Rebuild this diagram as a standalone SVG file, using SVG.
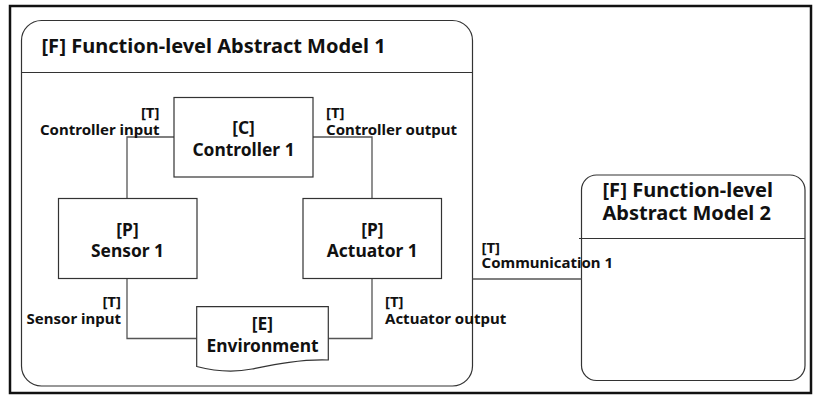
<svg xmlns="http://www.w3.org/2000/svg" width="818" height="397" viewBox="0 0 818 397">
<style>
  text { font-family: "Noto Sans", "Open Sans", sans-serif; font-weight: bold; fill: #111; }
  .title { font-size: 20px; }
  .node { font-size: 17.4px; text-anchor: middle; }
  .lbl { font-size: 15px; }
  .end { text-anchor: end; }
  .box { fill: #fff; stroke: #333; stroke-width: 1.2; }
  .conn { fill: none; stroke: #555; stroke-width: 1.3; }
</style>
<rect x="0" y="0" width="818" height="397" fill="#fff"/>
<rect x="10" y="6" width="801" height="387" fill="none" stroke="#111" stroke-width="2.5"/>

<g id="model1">
  <rect class="box" x="21.5" y="20.5" width="451" height="365.5" rx="20" ry="20"/>
  <line x1="21.5" y1="72.5" x2="472.5" y2="72.5" stroke="#333" stroke-width="1.2"/>
  <text class="title" x="41.5" y="53">[F] Function-level Abstract Model 1</text>
</g>

<g id="model2">
  <rect class="box" x="581.5" y="175" width="223.5" height="205.5" rx="15" ry="15"/>
  <line x1="579" y1="238.5" x2="805" y2="238.5" stroke="#333" stroke-width="1.2"/>
  <text class="title" x="602.5" y="196.5">[F] Function-level</text>
  <text class="title" x="602.5" y="219.5">Abstract Model 2</text>
</g>

<g id="connectors">
  <path class="conn" d="M174,137 H127 V198"/>
  <path class="conn" d="M313,137 H372 V198"/>
  <path class="conn" d="M127,278 V338.5 H196.7"/>
  <path class="conn" d="M328.3,338.5 H372 V278"/>
  <path class="conn" d="M472.7,279 H581.5"/>
</g>

<g id="controller">
  <rect class="box" x="174" y="97.5" width="139" height="79.5"/>
  <text class="node" x="243.5" y="134">[C]</text>
  <text class="node" x="243.5" y="155.5">Controller 1</text>
</g>

<g id="sensor">
  <rect class="box" x="58.5" y="198.5" width="138.5" height="80"/>
  <text class="node" x="127.5" y="235.5">[P]</text>
  <text class="node" x="127.5" y="257">Sensor 1</text>
</g>

<g id="actuator">
  <rect class="box" x="303" y="198.5" width="138.5" height="80"/>
  <text class="node" x="372.3" y="235.5">[P]</text>
  <text class="node" x="372.3" y="257">Actuator 1</text>
</g>

<g id="environment">
  <path class="box" d="M196.7,306.7 H328.3 V360 C300,359 272,365 252,369 C232,373 212,370.5 196.7,366.5 Z"/>
  <text class="node" x="262.5" y="330">[E]</text>
  <text class="node" x="262.5" y="352">Environment</text>
</g>

<g id="labels">
  <text class="lbl end" x="159.5" y="118">[T]</text>
  <text class="lbl end" x="159.5" y="135">Controller input</text>
  <text class="lbl" x="326" y="118">[T]</text>
  <text class="lbl" x="326" y="135">Controller output</text>
  <text class="lbl end" x="121" y="306.5">[T]</text>
  <text class="lbl end" x="121" y="323.5">Sensor input</text>
  <text class="lbl" x="385" y="306.5">[T]</text>
  <text class="lbl" x="385" y="323.5">Actuator output</text>
  <text class="lbl" x="481.5" y="253">[T]</text>
  <text class="lbl" x="481.5" y="267.5">Communication 1</text>
</g>
</svg>
